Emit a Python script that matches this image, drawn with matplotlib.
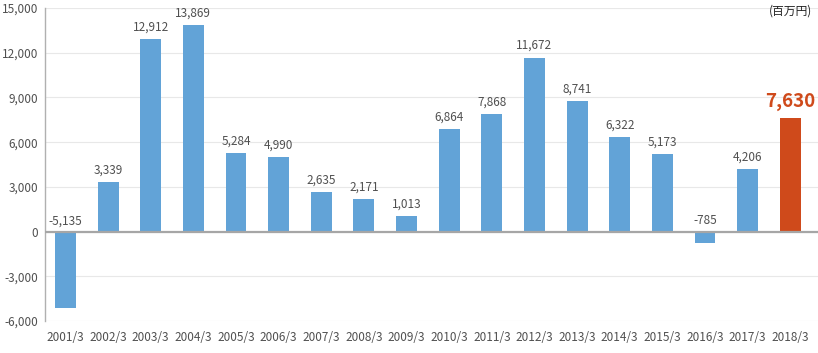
import matplotlib
matplotlib.use("Agg")
import matplotlib.pyplot as plt
from matplotlib.ticker import FuncFormatter

plt.rcParams['font.family'] = ['Noto Sans CJK JP', 'DejaVu Sans']

categories = ["2001/3", "2002/3", "2003/3", "2004/3", "2005/3", "2006/3", "2007/3",
              "2008/3", "2009/3", "2010/3", "2011/3", "2012/3", "2013/3", "2014/3",
              "2015/3", "2016/3", "2017/3", "2018/3"]
values = [-5135, 3339, 12912, 13869, 5284, 4990, 2635, 2171, 1013, 6864, 7868,
          11672, 8741, 6322, 5173, -785, 4206, 7630]
highlight_index = 17
yticks = [-6000, -3000, 0, 3000, 6000, 9000, 12000, 15000]
unit_label = "(百万円)"

blue = "#62a3d7"
orange = "#cf4a1b"
text_color = "#505050"

fig = plt.figure(figsize=(8.18, 3.53), dpi=100)
ax = fig.add_axes([0.0555, 0.091, 0.9445, 0.886])

x = list(range(len(categories)))
colors = [orange if i == highlight_index else blue for i in x]
ax.bar(x, values, width=0.49, color=colors, zorder=3)

ax.set_ylim(-6000, 15000)
ax.set_xlim(-0.47, len(categories) - 0.35)
ax.set_yticks(yticks)
ax.yaxis.set_major_formatter(FuncFormatter(lambda v, p: f"{int(v):,}"))
ax.set_xticks(x)
ax.set_xticklabels(categories)
ax.tick_params(axis='both', length=0, labelsize=8.5, colors=text_color)
ax.tick_params(axis='x', pad=7)
ax.tick_params(axis='y', pad=5)

ax.grid(axis='y', color='#e8e8e8', linewidth=0.8, zorder=0)
ax.axhline(0, color='#a6a6a6', linewidth=1.6, zorder=4)
for s in ['top', 'right', 'bottom']:
    ax.spines[s].set_visible(False)
ax.spines['left'].set_color('#b0b0b0')
ax.spines['left'].set_linewidth(1.0)

for i, v in enumerate(values):
    if i == highlight_index:
        ax.annotate(f"{v:,}", (i, v), xytext=(0, 5), textcoords='offset points',
                    ha='center', va='bottom', fontsize=13.5, fontweight='bold', color=orange, zorder=5)
    elif v >= 0:
        ax.annotate(f"{v:,}", (i, v), xytext=(0, 4), textcoords='offset points',
                    ha='center', va='bottom', fontsize=8.5, color=text_color, zorder=5)
    else:
        ax.annotate(f"{v:,}", (i, 0), xytext=(0, 3), textcoords='offset points',
                    ha='center', va='bottom', fontsize=8.5, color=text_color, zorder=5)

ax.text(812 / 818, 1 - 11 / 353, unit_label, transform=fig.transFigure, ha='right', va='center',
        fontsize=8.5, color='#222222')

fig.savefig("out.png", dpi=100)
